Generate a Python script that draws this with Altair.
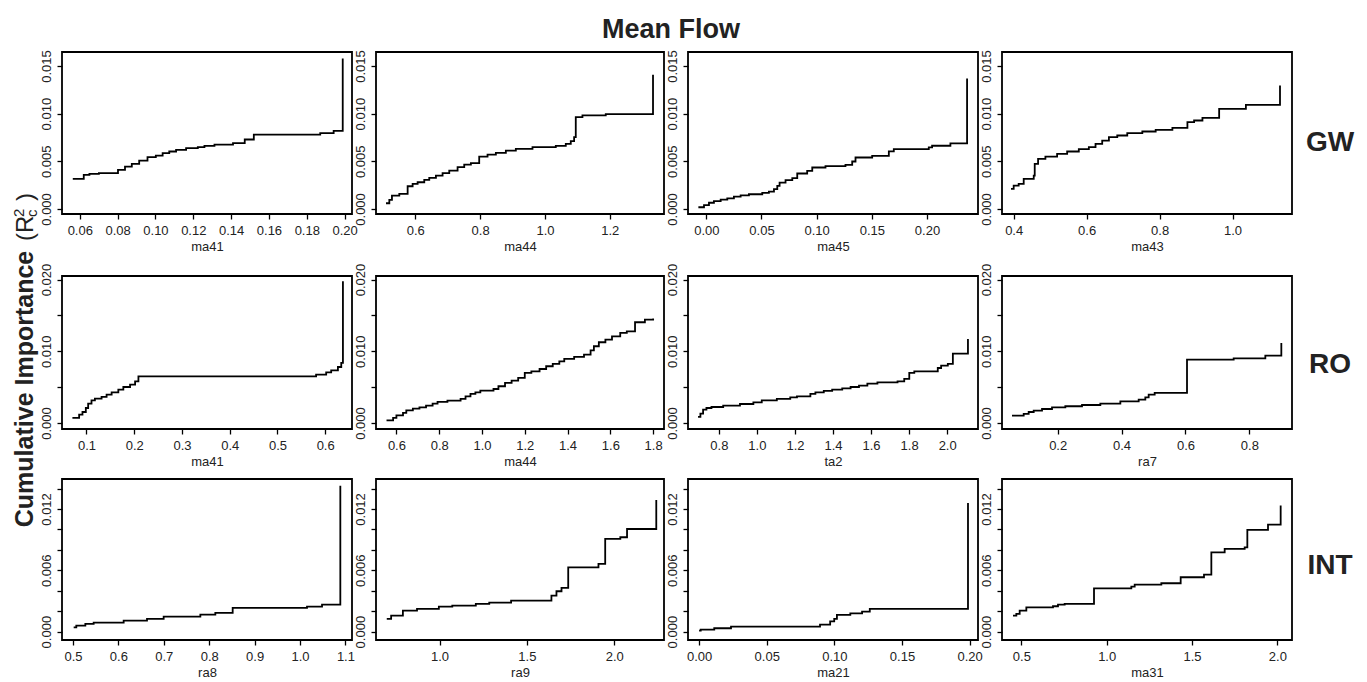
import altair as alt
import pandas as pd

FONT = "Liberation Sans"

# ---------------- data ----------------
row_labels = ["GW", "RO", "INT"]
x_titles = [["ma41", "ma44", "ma45", "ma43"],
            ["ma41", "ma44", "ta2", "ra7"],
            ["ra8", "ra9", "ma21", "ma31"]]

# GW row
gw_ma41_x = [0.0563, 0.0621, 0.0651, 0.0701, 0.0802, 0.0839, 0.0875, 0.0914, 0.0958, 0.1002, 0.1038, 0.1073,
             0.1109, 0.1162, 0.1224, 0.1259, 0.1312, 0.1410, 0.1472, 0.1520, 0.1871, 0.1942, 0.1990]
gw_ma41_y = [0.00315, 0.00357, 0.00368, 0.00375, 0.0041, 0.00445, 0.00473, 0.00508, 0.00543, 0.0056, 0.00585,
             0.00603, 0.0062, 0.00638, 0.00648, 0.00662, 0.00676, 0.0069, 0.00729, 0.00781, 0.00795, 0.0082, 0.0158]

gw_ma44_x = [0.5096, 0.5199, 0.528, 0.5507, 0.5764, 0.5918, 0.6072, 0.6277, 0.6431, 0.6637, 0.6842, 0.7048,
             0.7305, 0.751, 0.7715, 0.7972, 0.8229, 0.8486, 0.8794, 0.9102, 0.9616, 1.0335, 1.0643, 1.0797,
             1.09, 1.0951, 1.1157, 1.1876, 1.3334]
gw_ma44_y = [0.0006, 0.00095, 0.0014, 0.00158, 0.00238, 0.00263, 0.0028, 0.00305, 0.00326, 0.0035, 0.00375,
             0.00403, 0.00438, 0.00466, 0.0048, 0.0055, 0.00571, 0.00589, 0.00613, 0.00631, 0.00648, 0.00662,
             0.00683, 0.00711, 0.00753, 0.00964, 0.00981, 0.00995, 0.01409]

gw_ma45_x = [-0.0072, -0.0021, 0.0024, 0.0069, 0.013, 0.019, 0.025, 0.0311, 0.0386, 0.0507, 0.0567, 0.0613,
             0.0643, 0.0664, 0.0718, 0.0779, 0.0824, 0.0914, 0.096, 0.108, 0.1261, 0.1322, 0.1352, 0.1503,
             0.1654, 0.1699, 0.2016, 0.2046, 0.2212, 0.2363]
gw_ma45_y = [0.00018, 0.0004, 0.00065, 0.00083, 0.00097, 0.00111, 0.00129, 0.00143, 0.00154, 0.00168, 0.00182,
             0.00207, 0.00242, 0.00277, 0.00302, 0.00323, 0.00372, 0.004, 0.00435, 0.00449, 0.00463, 0.00498,
             0.0054, 0.00558, 0.00604, 0.00628, 0.00646, 0.00663, 0.00688, 0.01368]

gw_ma43_x = [0.3927, 0.4, 0.4137, 0.4275, 0.455, 0.4577, 0.4669, 0.487, 0.5191, 0.5466, 0.5786, 0.6061, 0.6244,
             0.6427, 0.6611, 0.684, 0.7114, 0.7527, 0.7893, 0.8351, 0.8763, 0.8946, 0.9175, 0.9633, 1.0366, 1.1301]
gw_ma43_y = [0.0021, 0.00245, 0.00263, 0.00315, 0.0035, 0.00473, 0.00526, 0.0055, 0.00578, 0.00603, 0.00627,
             0.00648, 0.00683, 0.00718, 0.00753, 0.00771, 0.00795, 0.00813, 0.0083, 0.00851, 0.00911, 0.00928,
             0.00956, 0.01051, 0.01093, 0.01296]

# RO row
ro_ma41_x = [0.0705, 0.0846, 0.0916, 0.0986, 0.1035, 0.1105, 0.1176, 0.1316, 0.1421, 0.1527, 0.1667, 0.1772,
             0.1913, 0.2018, 0.2088, 0.581, 0.6021, 0.6126, 0.6267, 0.6337, 0.6372]
ro_ma41_y = [0.0007, 0.00116, 0.00153, 0.00209, 0.0027, 0.00316, 0.0034, 0.00363, 0.00395, 0.00428, 0.00465,
             0.00502, 0.00535, 0.00581, 0.00651, 0.00674, 0.00707, 0.00735, 0.00781, 0.00837, 0.01977]

ro_ma44_x = [0.5538, 0.5846, 0.6, 0.6308, 0.6462, 0.6769, 0.7077, 0.7385, 0.7692, 0.7923, 0.8385, 0.9, 0.9231,
             0.9462, 0.9692, 0.9923, 1.0538, 1.0769, 1.1077, 1.1385, 1.1692, 1.2, 1.2308, 1.2692, 1.3, 1.3308,
             1.3615, 1.3846, 1.4308, 1.4769, 1.5077, 1.5231, 1.5462, 1.5769, 1.6077, 1.6462, 1.6769, 1.7154,
             1.7615, 1.8]
ro_ma44_y = [0.00037, 0.0007, 0.00107, 0.0014, 0.00177, 0.002, 0.00219, 0.00242, 0.0027, 0.00293, 0.00312,
             0.00335, 0.00372, 0.00405, 0.00428, 0.00451, 0.00474, 0.00512, 0.00558, 0.00591, 0.00628, 0.00698,
             0.00721, 0.00753, 0.00791, 0.00823, 0.0086, 0.00893, 0.00921, 0.00953, 0.01014, 0.0107, 0.01126,
             0.01163, 0.01209, 0.01256, 0.01279, 0.01405, 0.01442, 0.01456]

ro_ta2_x = [0.6907, 0.7031, 0.7172, 0.7348, 0.7612, 0.8229, 0.911, 0.9815, 1.0256, 1.1048, 1.1753, 1.2106,
            1.2811, 1.3075, 1.3515, 1.3956, 1.4485, 1.4925, 1.5366, 1.5806, 1.6335, 1.7392, 1.7744, 1.8009,
            1.8273, 1.9507, 1.9683, 2.0035, 2.03, 2.1093]
ro_ta2_y = [0.00084, 0.0013, 0.00186, 0.00209, 0.00223, 0.00242, 0.00265, 0.00288, 0.00316, 0.00335, 0.00358,
            0.00372, 0.00405, 0.00428, 0.00447, 0.00465, 0.00484, 0.00502, 0.00521, 0.00549, 0.00567, 0.00581,
            0.00614, 0.00698, 0.00721, 0.00767, 0.008, 0.00823, 0.00967, 0.01172]

ro_ra7_x = [0.057, 0.0936, 0.1092, 0.1249, 0.151, 0.1823, 0.224, 0.2762, 0.3336, 0.3962, 0.4536, 0.4744, 0.4849,
            0.5037, 0.6049, 0.751, 0.8501, 0.9002]
ro_ra7_y = [0.00102, 0.00126, 0.00153, 0.00172, 0.00195, 0.00219, 0.00233, 0.00251, 0.0027, 0.00302, 0.00326,
            0.00358, 0.00395, 0.00419, 0.00884, 0.00902, 0.0094, 0.01116]

# INT row
int_ra8_x = [0.5015, 0.5073, 0.5272, 0.5455, 0.6116, 0.663, 0.6997, 0.7805, 0.8135, 0.8517, 1.0154, 1.0485, 1.0888]
int_ra8_y = [0.00042, 0.00059, 0.00075, 0.00088, 0.00108, 0.00124, 0.00147, 0.00166, 0.00183, 0.00232, 0.00245,
             0.00264, 0.01428]

int_ra9_x = [0.6981, 0.7231, 0.7904, 0.8712, 0.9962, 1.0731, 1.2077, 1.2846, 1.4096, 1.6404, 1.6692, 1.6981,
             1.7365, 1.9096, 1.9481, 2.0346, 2.0731, 2.2404]
int_ra9_y = [0.00124, 0.00157, 0.00205, 0.00222, 0.00245, 0.00254, 0.00271, 0.00284, 0.00303, 0.00352, 0.00395,
             0.00427, 0.00629, 0.00662, 0.00907, 0.00923, 0.01004, 0.01288]

int_ma21_x = [0.0, 0.0012, 0.0112, 0.0236, 0.0894, 0.0969, 0.0999, 0.1019, 0.1118, 0.1205, 0.1262, 0.1988]
int_ma21_y = [0.0001, 0.0002, 0.00033, 0.00049, 0.00068, 0.00101, 0.00124, 0.00163, 0.00179, 0.00196, 0.00222,
              0.01259]

int_ma31_x = [0.4512, 0.4707, 0.4902, 0.5293, 0.6855, 0.7148, 0.7539, 0.9258, 1.1445, 1.1641, 1.3203, 1.4336,
              1.5703, 1.6133, 1.6914, 1.8086, 1.8242, 1.9453, 2.0195]
int_ma31_y = [0.00157, 0.00173, 0.00205, 0.00238, 0.00248, 0.00264, 0.00271, 0.00424, 0.0044, 0.0046, 0.00473,
              0.00532, 0.00558, 0.00776, 0.00809, 0.00825, 0.00995, 0.01047, 0.01233]

series = [[(gw_ma41_x, gw_ma41_y), (gw_ma44_x, gw_ma44_y), (gw_ma45_x, gw_ma45_y), (gw_ma43_x, gw_ma43_y)],
          [(ro_ma41_x, ro_ma41_y), (ro_ma44_x, ro_ma44_y), (ro_ta2_x, ro_ta2_y), (ro_ra7_x, ro_ra7_y)],
          [(int_ra8_x, int_ra8_y), (int_ra9_x, int_ra9_y), (int_ma21_x, int_ma21_y), (int_ma31_x, int_ma31_y)]]

# tick values / labels
x_ticks = [[[0.06, 0.08, 0.10, 0.12, 0.14, 0.16, 0.18, 0.20], [0.6, 0.8, 1.0, 1.2],
            [0.00, 0.05, 0.10, 0.15, 0.20], [0.4, 0.6, 0.8, 1.0]],
           [[0.1, 0.2, 0.3, 0.4, 0.5, 0.6], [0.6, 0.8, 1.0, 1.2, 1.4, 1.6, 1.8],
            [0.8, 1.0, 1.2, 1.4, 1.6, 1.8, 2.0], [0.2, 0.4, 0.6, 0.8]],
           [[0.5, 0.6, 0.7, 0.8, 0.9, 1.0, 1.1], [1.0, 1.5, 2.0],
            [0.00, 0.05, 0.10, 0.15, 0.20], [0.5, 1.0, 1.5, 2.0]]]
x_formats = [[".2f", ".1f", ".2f", ".1f"], [".1f"] * 4, [".1f", ".1f", ".2f", ".1f"]]

y_ticks = [[0.0, 0.005, 0.010, 0.015],
           [0.0, 0.005, 0.010, 0.015, 0.020],
           [0.0, 0.002, 0.004, 0.006, 0.008, 0.010, 0.012, 0.014]]
y_tick_labels = [[0.0, 0.005, 0.010, 0.015],
                 [0.0, 0.010, 0.020],
                 [0.0, 0.006, 0.012]]

# scale extents (plot box edges)
x_domains = [[[0.0506, 0.2039], [0.4788, 1.3673], [-0.0166, 0.2462], [0.368, 1.163]],
             [[0.0487, 0.6562], [0.5046, 1.8508], [0.6379, 2.1621], [0.0257, 0.9336]],
             [[0.4758, 1.1145], [0.6365, 2.2846], [-0.0082, 0.2062], [0.3867, 2.0859]]]
y_domains = [[-0.00053, 0.01647], [-0.00084, 0.0205], [-0.00082, 0.01493]]

# ---------------- layout ----------------
panel_w = [290, 288, 290, 290]
panel_h = [162, 153, 161]
gap_h = [62, 50]          # vertical gaps between plot boxes
TXT = "#222222"


def text_layer(txt, x, y, size, weight="normal", angle=0, align="center", baseline="alphabetic"):
    kw = dict(font=FONT, fontSize=size, fontWeight=weight, color=TXT, align=align, baseline=baseline)
    if angle:
        kw["angle"] = angle
    return alt.Chart(pd.DataFrame({"t": [txt]})).mark_text(**kw).encode(
        text="t:N", x=alt.value(x), y=alt.value(y))


def panel(r, c):
    xs, ys = series[r][c]
    df = pd.DataFrame({"x": xs, "y": ys})
    lbls = ", ".join(repr(v) for v in y_tick_labels[r])
    line = alt.Chart(df).mark_line(interpolate="step-after", color="black", strokeWidth=1.8).encode(
        x=alt.X("x:Q", scale=alt.Scale(domain=x_domains[r][c], nice=False, zero=False),
                axis=alt.Axis(values=x_ticks[r][c], format=x_formats[r][c], title=x_titles[r][c])),
        y=alt.Y("y:Q", scale=alt.Scale(domain=y_domains[r], nice=False, zero=False),
                axis=alt.Axis(values=y_ticks[r], title=None,
                              labelExpr=f"indexof([{lbls}], datum.value) >= 0 ? format(datum.value, '.3f') : ''")),
    )
    layers = [line]
    if r == 0 and c == 1:
        layers.append(text_layer("Mean Flow", 295, -14, 27, "bold"))
    if c == 3:
        layers.append(text_layer(row_labels[r], 328, [99, 97, 95][r], 28, "bold"))
    if r == 1 and c == 0:
        layers.append(text_layer("Cumulative Importance", -29, 113, 25, "bold", angle=270))
        layers.append(text_layer("(R", -29, -35, 24, angle=270, align="left"))
        layers.append(text_layer("2", -38, -59, 15, angle=270, align="left"))
        layers.append(text_layer("c", -25, -59, 15, angle=270, align="left"))
        layers.append(text_layer(")", -29, -75, 24, angle=270, align="left"))
    return alt.layer(*layers).properties(width=panel_w[c], height=panel_h[r])


def spacer(c, h):
    return alt.Chart(pd.DataFrame({"t": [""]})).mark_text().encode(text="t:N").properties(
        width=panel_w[c], height=h, view=alt.ViewBackground(stroke="transparent", fill="transparent"))


cells = []
for r in range(3):
    cells += [panel(r, c) for c in range(4)]
    if r < 2:
        cells += [spacer(c, gap_h[r]) for c in range(4)]

chart = alt.concat(*cells, columns=4, spacing={"row": 0, "column": 24}, bounds="flush").properties(
    padding={"left": 11, "top": 15, "right": 5, "bottom": 5},
    background="white",
).configure_view(
    stroke="black", strokeWidth=1.8
).configure_axis(
    domain=False, grid=False, ticks=True, tickColor="black", tickSize=5, tickWidth=1.3,
    labelFont=FONT, labelFontSize=13, labelColor=TXT,
    titleFont=FONT, titleFontSize=13, titleFontWeight="normal", titleColor=TXT,
).configure_axisX(
    labelPadding=5, titlePadding=3
).configure_axisY(
    labelAngle=270, labelAlign="center", labelBaseline="bottom", labelPadding=4
)

chart.save("out.html", embed_options={"renderer": "svg", "actions": False})
